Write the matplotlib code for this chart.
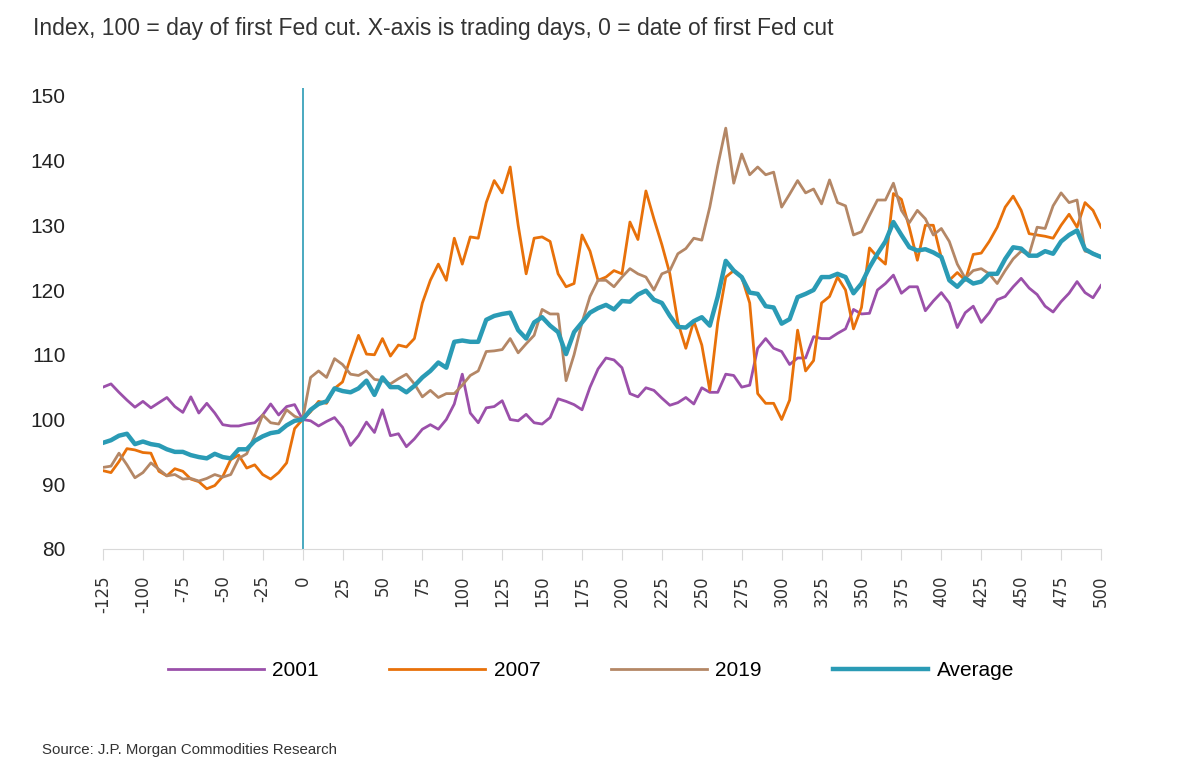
import matplotlib
matplotlib.use("Agg")
import matplotlib.pyplot as plt

plt.rcParams['axes.unicode_minus'] = False
NARROW = ['Liberation Sans Narrow', 'Liberation Sans', 'DejaVu Sans']

# trading days relative to first Fed cut (one value every 5 days)
days = list(range(-125, 505, 5))

# index levels, 100 = day of first cut
s2001 = [105.0, 105.5, 104.2, 103.0, 101.9, 102.8, 101.8, 102.6, 103.4, 102.0,
         101.1, 103.5, 101.0, 102.5, 101.0, 99.2, 99.0, 99.0, 99.3, 99.5,
         100.7, 102.4, 100.7, 102.0, 102.3, 100.0, 99.8, 99.0, 99.7, 100.3,
         98.8, 96.0, 97.5, 99.6, 98.0, 101.5, 97.5, 97.8, 95.8, 97.0,
         98.5, 99.2, 98.5, 100.0, 102.4, 107.0, 101.0, 99.5, 101.8, 102.0,
         102.9, 100.0, 99.8, 100.8, 99.5, 99.3, 100.3, 103.2, 102.8, 102.3,
         101.5, 105.0, 107.8, 109.5, 109.2, 108.0, 104.0, 103.5, 104.9, 104.5,
         103.3, 102.2, 102.6, 103.4, 102.4, 104.9, 104.2, 104.2, 107.0, 106.8,
         105.0, 105.3, 111.0, 112.5, 111.0, 110.5, 108.5, 109.5, 109.5, 112.8,
         112.5, 112.5, 113.3, 114.0, 117.0, 116.3, 116.4, 120.0, 121.0, 122.3,
         119.5, 120.5, 120.5, 116.8, 118.3, 119.6, 118.0, 114.2, 116.5, 117.5,
         115.0, 116.5, 118.5, 119.0, 120.5, 121.8, 120.3, 119.3, 117.5, 116.6,
         118.2, 119.5, 121.3, 119.6, 118.8, 120.7]

s2007 = [92.1, 91.8, 93.5, 95.5, 95.3, 94.9, 94.8, 92.0, 91.3, 92.4,
         92.0, 90.8, 90.4, 89.3, 89.8, 91.2, 93.8, 94.5, 92.5, 93.0,
         91.5, 90.8, 91.8, 93.3, 98.6, 100.0, 101.2, 102.8, 102.5, 104.8,
         105.8, 109.5, 113.0, 110.1, 110.0, 112.5, 109.8, 111.5, 111.2, 112.5,
         118.0, 121.5, 124.0, 121.5, 128.0, 124.0, 128.2, 128.0, 133.5, 136.9,
         135.0, 139.0, 130.0, 122.5, 128.0, 128.2, 127.5, 122.5, 120.5, 121.0,
         128.5, 126.0, 121.5, 122.0, 123.0, 122.5, 130.5, 127.8, 135.3, 131.0,
         127.0, 122.5, 115.0, 111.0, 115.2, 111.5, 104.5, 115.0, 122.0, 123.0,
         122.0, 118.0, 104.0, 102.5, 102.5, 100.0, 103.0, 113.8, 107.5, 109.1,
         118.0, 119.0, 122.0, 120.0, 114.0, 117.3, 126.5, 125.1, 124.0, 134.9,
         134.0, 129.6, 124.6, 130.0, 130.0, 125.0, 121.5, 122.7, 121.5, 125.5,
         125.7, 127.5, 129.7, 132.8, 134.5, 132.3, 128.7, 128.5, 128.3, 128.0,
         130.0, 131.7, 129.7, 133.5, 132.3, 129.7]

s2019 = [92.6, 92.8, 94.8, 93.0, 91.0, 91.8, 93.3, 92.3, 91.3, 91.5,
         90.8, 90.9, 90.5, 90.9, 91.5, 91.1, 91.5, 94.0, 94.7, 97.5,
         100.7, 99.5, 99.3, 101.5, 100.5, 100.0, 106.5, 107.5, 106.5, 109.4,
         108.5, 107.0, 106.8, 107.5, 106.2, 106.0, 105.5, 106.3, 107.0, 105.5,
         103.5, 104.5, 103.4, 104.0, 104.0, 105.3, 106.8, 107.5, 110.5, 110.6,
         110.8, 112.5, 110.3, 111.7, 113.0, 117.0, 116.3, 116.3, 106.0, 110.0,
         115.0, 119.0, 121.5, 121.5, 120.5, 122.0, 123.3, 122.5, 122.0, 120.0,
         122.5, 123.0, 125.6, 126.4, 128.0, 127.7, 132.8, 139.2, 145.0, 136.5,
         141.0, 137.8, 139.0, 137.8, 138.2, 132.8, 134.8, 136.9, 135.0, 135.6,
         133.3, 137.0, 133.5, 133.0, 128.5, 129.0, 131.5, 133.9, 133.9, 136.5,
         132.3, 130.4, 132.3, 131.0, 128.5, 129.5, 127.5, 124.0, 121.8, 123.0,
         123.3, 122.5, 121.0, 123.0, 124.8, 126.0, 125.5, 129.7, 129.5, 133.0,
         135.0, 133.5, 133.9, 126.0, 125.7, 125.1]

avg = [96.4, 96.8, 97.5, 97.8, 96.2, 96.6, 96.2, 96.0, 95.4, 95.0,
       95.0, 94.5, 94.2, 94.0, 94.7, 94.2, 94.0, 95.4, 95.4, 96.7,
       97.4, 97.9, 98.1, 99.1, 99.8, 100.0, 101.5, 102.4, 102.8, 104.8,
       104.4, 104.2, 104.8, 106.0, 103.8, 106.5, 105.0, 105.0, 104.2, 105.2,
       106.5, 107.5, 108.8, 108.0, 112.0, 112.2, 112.0, 112.0, 115.4, 116.0,
       116.3, 116.5, 113.8, 112.5, 115.0, 115.8, 114.5, 113.5, 110.1, 113.5,
       115.0, 116.5, 117.2, 117.7, 117.0, 118.3, 118.2, 119.3, 119.9, 118.5,
       118.0, 116.0, 114.3, 114.2, 115.2, 115.8, 114.5, 119.0, 124.5, 123.0,
       122.0, 119.6, 119.4, 117.5, 117.3, 114.8, 115.5, 118.9, 119.4, 120.0,
       122.0, 122.0, 122.5, 122.0, 119.5, 121.0, 123.5, 125.6, 127.5, 130.5,
       128.5, 126.6, 126.1, 126.3, 125.8, 125.1, 121.5, 120.5, 121.8, 121.0,
       121.3, 122.5, 122.5, 124.8, 126.6, 126.4, 125.3, 125.3, 126.0, 125.6,
       127.5, 128.5, 129.2, 126.3, 125.6, 125.1]

series = [("2001", s2001, "#9b50aa", 2.0),
          ("2007", s2007, "#e8710a", 2.0),
          ("2019", s2019, "#b48766", 2.0),
          ("Average", avg, "#2a9bb5", 3.2)]

fig = plt.figure(figsize=(12, 7.67), dpi=100)
ax = fig.add_axes([103/1200, 1-549/767, 998/1200, 461/767])

ax.axvline(0, color="#2a9bb5", lw=1.2, zorder=1)
handles = []
for name, vals, col, lw in series:
    h, = ax.plot(days, vals, color=col, lw=lw, label=name, zorder=2)
    handles.append(h)

ax.set_xlim(-125, 500)
ax.set_ylim(80, 151.2)
ax.set_xticks(range(-125, 501, 25))
ax.set_yticks(range(80, 151, 10))
for s in ["top", "right", "left"]:
    ax.spines[s].set_visible(False)
ax.spines["bottom"].set_color("#d9d9d9")
ax.tick_params(axis="x", length=8, color="#d9d9d9", labelrotation=90,
               labelsize=12, labelcolor="#333333", pad=11)
ax.tick_params(axis="y", length=0, labelsize=15, labelcolor="#222222", pad=27)
for lab in ax.get_yticklabels():
    lab.set_family(NARROW)

fig.text(33/1200, 1-28/767,
         "Index, 100 = day of first Fed cut. X-axis is trading days, 0 = date of first Fed cut",
         fontsize=16.5, color="#333333", va="center", family=NARROW)

fig.legend(handles=handles, loc="center", bbox_to_anchor=(0.4925, 1-671/767),
           ncol=4, frameon=False, handlelength=4.6, handletextpad=0.4,
           columnspacing=3.4, prop={"family": NARROW, "size": 15})

fig.text(42/1200, 1-750/767, "Source: J.P. Morgan Commodities Research",
         fontsize=10.8, color="#333333", va="center", family=NARROW)

fig.savefig("out.png", dpi=100)
